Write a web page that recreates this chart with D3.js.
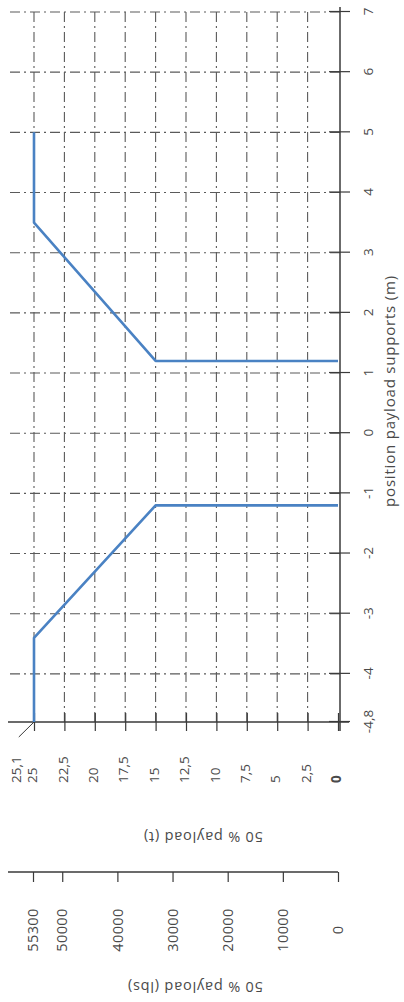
<!DOCTYPE html>
<html><head><meta charset="utf-8">
<script src="https://cdn.jsdelivr.net/npm/d3@7"></script>
<style>
html,body{margin:0;padding:0;background:#fff;}
svg{display:block;}
text{font-family:"Open Sans",sans-serif;fill:#4a4a4a;}
</style></head>
<body>
<svg id="c" width="404" height="1002"></svg>
<script>
// ---- data ----
const posTicks = [-4.8, -4, -3, -2, -1, 0, 1, 2, 3, 4, 5, 6, 7];
const posGrid = [-4, -3, -2, -1, 0, 1, 2, 3, 4, 5, 6, 7];
const tTicks = [0, 2.5, 5, 7.5, 10, 12.5, 15, 17.5, 20, 22.5, 25];
const tGrid = [2.5, 5, 7.5, 10, 12.5, 15, 17.5, 20, 22.5, 25];
const tMax = 25.1;
const lbsTicks = [0, 10000, 20000, 30000, 40000, 50000, 55300];
const leftPos = [-4.8, -3.4, -1.2, -1.2];
const leftT   = [25, 25, 15, 0];
const rightPos = [1.2, 1.2, 3.5, 5];
const rightT   = [0, 15, 25, 25];
const xTitle = "position payload supports (m)";
const tTitle = "50 % payload (t)";
const lbsTitle = "50 % payload (lbs)";

const fmt = v => String(v).replace(".", ",");

const svg = d3.select("#c");
// chart drawn in its natural orientation, then turned a quarter turn counter-clockwise
const g = svg.append("g").attr("transform", "translate(0,1002) rotate(-90)");

const x = d3.scaleLinear().domain([-4.8, 7]).range([280, 990]);
const y = d3.scaleLinear().domain([0, 25]).range([338, 34]);
const yl = d3.scaleLinear().domain([0, 55300]).range([338, 33]);
const axisV = 340;

const gridCol = "#5a5a5a", axisCol = "#3a3a3a", dash = "10,4,2,4";
const txtCol = "#4a4a4a";

// grid
g.append("g").selectAll("line").data(posGrid).join("line")
  .attr("x1", d => x(d)).attr("x2", d => x(d))
  .attr("y1", 10).attr("y2", axisV)
  .attr("stroke", gridCol).attr("stroke-width", 1.1).attr("stroke-dasharray", dash);
g.append("g").selectAll("line").data(tGrid).join("line")
  .attr("x1", x(-4.8)).attr("x2", 992)
  .attr("y1", d => y(d)).attr("y2", d => y(d))
  .attr("stroke", gridCol).attr("stroke-width", 1.1).attr("stroke-dasharray", dash);

// position axis (bottom in natural orientation)
const xAxis = g.append("g").attr("transform", `translate(0,${axisV})`)
  .call(d3.axisBottom(x).tickValues(posTicks).tickFormat(fmt).tickSize(10).tickPadding(13));
xAxis.select(".domain").remove();
xAxis.selectAll(".tick line").attr("y1", -11).attr("stroke", axisCol).attr("stroke-width", 1.2);
xAxis.selectAll(".tick text").attr("font-size", 13.5).attr("fill", txtCol)
  .attr("font-family", "Open Sans, sans-serif");
g.append("line").attr("x1", 271).attr("x2", 995).attr("y1", axisV).attr("y2", axisV)
  .attr("stroke", axisCol).attr("stroke-width", 1.5);

// t axis (left)
const yAxis = g.append("g").attr("transform", `translate(${x(-4.8)},0)`)
  .call(d3.axisLeft(y).tickValues(tTicks).tickFormat(fmt).tickSize(9).tickPadding(0));
yAxis.select(".domain").remove();
yAxis.selectAll(".tick line").attr("x2", 9).attr("x1", -9).attr("stroke", axisCol).attr("stroke-width", 1.2);
yAxis.selectAll(".tick text").attr("font-size", 13.5).attr("fill", txtCol)
  .attr("font-family", "Open Sans, sans-serif")
  .attr("text-anchor", "start").attr("x", -61).attr("dy", "0.2em")
  .attr("font-weight", d => d === 0 ? "bold" : null);
g.append("line").attr("x1", x(-4.8)).attr("x2", x(-4.8)).attr("y1", 8).attr("y2", 349)
  .attr("stroke", axisCol).attr("stroke-width", 1.5);
// 25,1 top label with leader
g.append("line").attr("x1", x(-4.8)).attr("y1", y(25)).attr("x2", x(-4.8) - 15).attr("y2", y(tMax) - 14)
  .attr("stroke", axisCol).attr("stroke-width", 1);
g.append("text").attr("x", x(-4.8) - 61).attr("y", y(tMax) - 16).attr("dy", "0.32em")
  .attr("font-size", 13.5).text(fmt(tMax));
g.append("text").attr("transform", `translate(165,203) rotate(-90)`)
  .attr("text-anchor", "middle").attr("dy", "0.32em").attr("font-size", 14.5)
  .attr("letter-spacing", 0.8).text(tTitle);

// lbs axis
const lAxisU = 130;
const lAxis = g.append("g").attr("transform", `translate(${lAxisU},0)`)
  .call(d3.axisLeft(yl).tickValues(lbsTicks).tickSize(10).tickPadding(0).tickFormat(d => String(d)));
lAxis.select(".domain").remove();
lAxis.selectAll(".tick line").attr("stroke", axisCol).attr("stroke-width", 1.2);
lAxis.selectAll(".tick text").attr("font-size", 14.5).attr("fill", txtCol)
  .attr("font-family", "Open Sans, sans-serif").attr("letter-spacing", 0.4)
  .attr("text-anchor", "middle").attr("x", -58).attr("dy", "0.32em");
g.append("line").attr("x1", lAxisU).attr("x2", lAxisU).attr("y1", 8).attr("y2", 338)
  .attr("stroke", axisCol).attr("stroke-width", 1.5);
g.append("text").attr("transform", `translate(15,195) rotate(-90)`)
  .attr("text-anchor", "middle").attr("dy", "0.32em").attr("font-size", 14.5)
  .attr("letter-spacing", 0.8).text(lbsTitle);

// x title
g.append("text").attr("x", 611).attr("y", 395).attr("text-anchor", "middle")
  .attr("font-size", 15).attr("letter-spacing", 0.8).text(xTitle);

// data lines
const line = d3.line().x(d => x(d[0])).y(d => y(d[1]));
const blue = "#4a82c3";
g.append("path").datum(leftPos.map((p, i) => [p, leftT[i]])).attr("d", line)
  .attr("fill", "none").attr("stroke", blue).attr("stroke-width", 2.6).attr("stroke-linejoin", "round");
g.append("path").datum(rightPos.map((p, i) => [p, rightT[i]])).attr("d", line)
  .attr("fill", "none").attr("stroke", blue).attr("stroke-width", 2.6).attr("stroke-linejoin", "round");
</script>
</body></html>
